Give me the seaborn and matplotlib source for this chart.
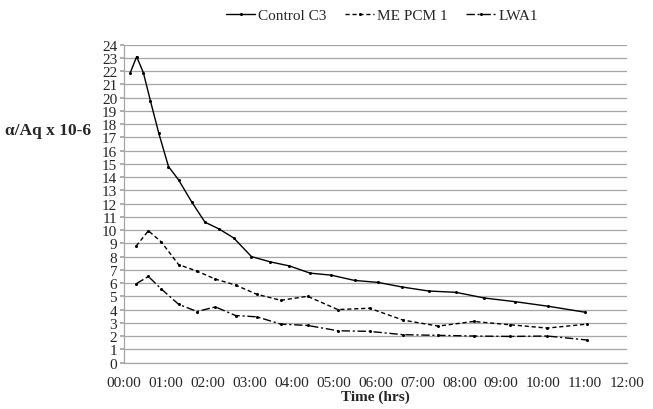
import matplotlib
matplotlib.use("Agg")
import matplotlib.pyplot as plt
import seaborn as sns
import pandas as pd
import numpy as np

# --- data (time in hours) ---
control_t = [0.15, 0.30, 0.46, 0.63, 0.83, 1.06, 1.30, 1.61, 1.93, 2.26, 2.62, 3.04, 3.49,
             3.94, 4.44, 4.94, 5.50, 6.06, 6.64, 7.27, 7.92, 8.60, 9.32, 10.12, 11.00]
control_v = [21.9, 23.1, 21.9, 19.75, 17.3, 14.8, 13.8, 12.15, 10.6, 10.1, 9.4, 8.0, 7.6,
             7.3, 6.75, 6.6, 6.2, 6.05, 5.7, 5.4, 5.3, 4.87, 4.6, 4.25, 3.8]

mepcm_t = [0.29, 0.58, 0.89, 1.30, 1.74, 2.18, 2.66, 3.17, 3.74, 4.38, 5.10, 5.86, 6.66,
           7.50, 8.34, 9.22, 10.10, 11.05]
mepcm_v = [8.8, 9.95, 9.1, 7.4, 6.9, 6.3, 5.85, 5.15, 4.7, 5.0, 4.0, 4.1, 3.2,
           2.75, 3.1, 2.85, 2.6, 2.9]

lwa_t = [0.29, 0.58, 0.89, 1.30, 1.74, 2.18, 2.66, 3.17, 3.74, 4.38, 5.10, 5.86, 6.66,
         7.50, 8.34, 9.22, 10.10, 11.05]
lwa_v = [5.95, 6.5, 5.55, 4.4, 3.85, 4.2, 3.55, 3.45, 2.9, 2.8, 2.4, 2.35, 2.1,
         2.05, 2.0, 1.97, 2.0, 1.7]

series_names = ["Control C3", "ME PCM 1", "LWA1"]
x_ticks = list(range(0, 13))
x_labels = [f"{h:02d}:00" for h in x_ticks]
y_ticks = list(range(0, 25))

df = pd.concat([
    pd.DataFrame({"t": control_t, "v": control_v, "s": series_names[0]}),
    pd.DataFrame({"t": mepcm_t, "v": mepcm_v, "s": series_names[1]}),
    pd.DataFrame({"t": lwa_t, "v": lwa_v, "s": series_names[2]}),
])

sns.set_theme(style="white")
plt.rcParams["font.family"] = ["Liberation Serif", "DejaVu Serif"]

fig = plt.figure(figsize=(6.53, 4.10), dpi=100)
ax = fig.add_axes([0.19, 0.1134, 0.77, 0.775])

sns.lineplot(data=df, x="t", y="v", hue="s", style="s",
             palette=["black", "black", "black"],
             dashes={series_names[0]: "", series_names[1]: (3, 2), series_names[2]: (6, 2, 1.5, 2)},
             markers={series_names[0]: "o", series_names[1]: "o", series_names[2]: "o"},
             markersize=2.2, markeredgewidth=0, linewidth=1.0, sort=False,
             ax=ax, legend=True)

ax.set_xlim(0, 12)
ax.set_ylim(0, 24)
ax.set_xticks(x_ticks)
ax.set_xticklabels(x_labels, fontsize=11)
ax.set_yticks(y_ticks)
ax.set_yticklabels([str(v) for v in y_ticks], fontsize=11)
ax.grid(axis="y", color="#a6a6a6", linewidth=0.9)
ax.grid(axis="x", visible=False)
for side in ["top", "right"]:
    ax.spines[side].set_visible(False)
for side in ["left", "bottom"]:
    ax.spines[side].set_color("#a6a6a6")
    ax.spines[side].set_linewidth(0.9)
ax.tick_params(axis="y", left=True, length=3, color="#a6a6a6", pad=2)
ax.tick_params(axis="x", bottom=False, pad=4)

ax.set_xlabel("Time (hrs)", fontsize=11, fontweight="bold", labelpad=0)
ax.set_ylabel("")
fig.text(0.008, 0.68, "α/Aq x 10-6", fontsize=12.5, fontweight="bold",
         ha="left", va="center")

handles, labels = ax.get_legend_handles_labels()
ax.legend(handles, labels, loc="center", bbox_to_anchor=(0.585, 0.96),
          bbox_transform=fig.transFigure, ncol=3, frameon=False, fontsize=11,
          handlelength=1.9, columnspacing=1.2, handletextpad=0.2)

fig.savefig("out.png", dpi=100)
